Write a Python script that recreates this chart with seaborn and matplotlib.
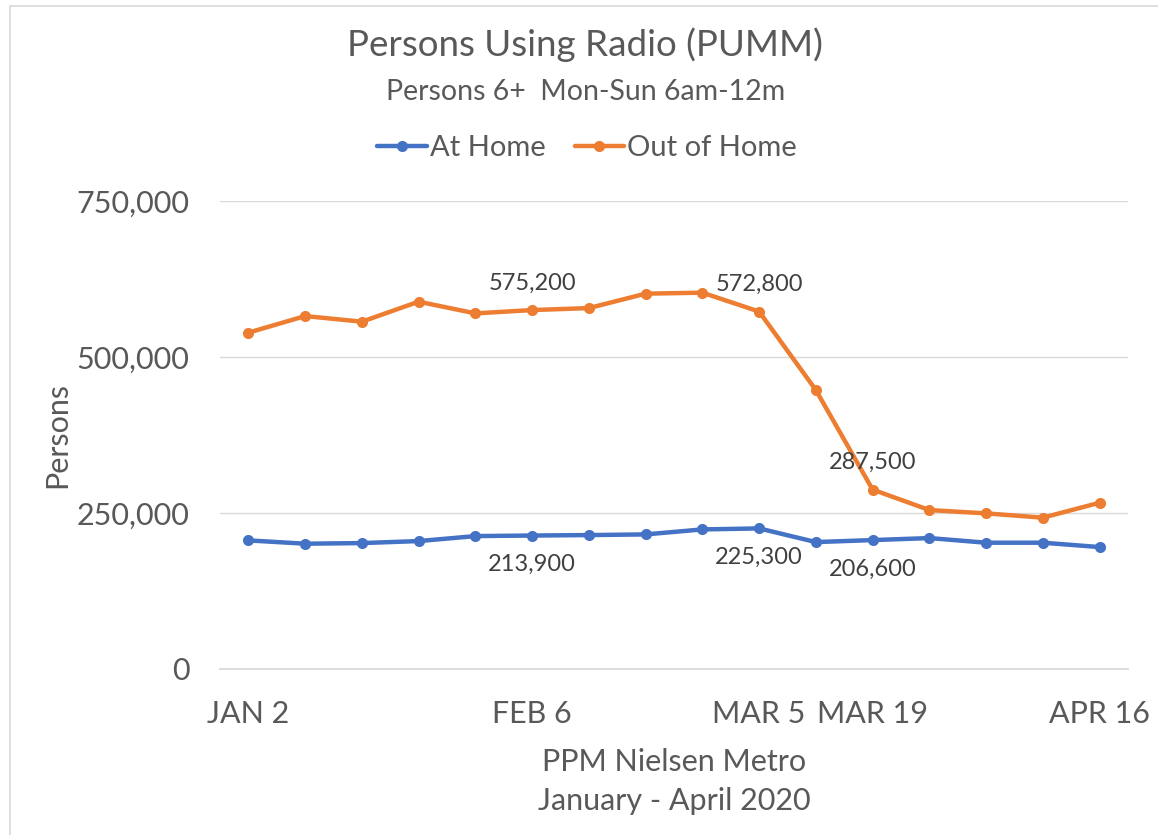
import matplotlib
matplotlib.use("Agg")
import matplotlib.pyplot as plt
from matplotlib.lines import Line2D
import seaborn as sns
import pandas as pd
import numpy as np

weeks = ["JAN 2", "JAN 9", "JAN 16", "JAN 23", "JAN 30", "FEB 6", "FEB 13", "FEB 20",
         "FEB 27", "MAR 5", "MAR 12", "MAR 19", "MAR 26", "APR 2", "APR 9", "APR 16"]
shown_ticks = ["JAN 2", "FEB 6", "MAR 5", "MAR 19", "APR 16"]
at_home = [206100, 200800, 201800, 205000, 213000, 213900, 214600, 215700,
           223700, 225300, 203400, 206600, 209800, 202400, 202400, 195400]
out_of_home = [539000, 565600, 556600, 588700, 569900, 575200, 578400, 601500,
               603100, 572800, 447000, 287500, 254700, 249400, 242500, 266500]
series_names = ["At Home", "Out of Home"]
labels_at = {"At Home": ["FEB 6", "MAR 5", "MAR 19"],
             "Out of Home": ["FEB 6", "MAR 5", "MAR 19"]}

df = pd.DataFrame({
    "idx": list(range(len(weeks))) * 2,
    "week": weeks * 2,
    "value": at_home + out_of_home,
    "series": [series_names[0]] * len(weeks) + [series_names[1]] * len(weeks),
})

sns.set_theme(style="white")
plt.rcParams["font.family"] = ["Lato", "DejaVu Sans"]
text_color = "#595959"
grid_color = "#D9D9D9"
palette = {"At Home": "#4472C4", "Out of Home": "#ED7D31"}

fig = plt.figure(figsize=(11.58, 8.35), dpi=100)
ax = fig.add_axes([220 / 1158, 1 - 669 / 835, (1128 - 220) / 1158, (669 - 201) / 835])

sns.lineplot(data=df, x="idx", y="value", hue="series", palette=palette,
             marker="o", markersize=8, markeredgewidth=0, linewidth=3.2,
             ax=ax, legend=False)

ax.set_xlim(-0.5, len(weeks) - 0.5)
ax.set_ylim(0, 750000)
ax.set_yticks([0, 250000, 500000, 750000])
ax.set_yticklabels([f"{v:,}" for v in [0, 250000, 500000, 750000]])
tick_pos = [weeks.index(w) for w in shown_ticks]
ax.set_xticks(tick_pos)
ax.set_xticklabels(shown_ticks)
ax.tick_params(axis="both", length=0, labelsize=22, colors=text_color)
ax.tick_params(axis="x", pad=22)
ax.tick_params(axis="y", pad=22)
ax.yaxis.grid(True, color=grid_color, linewidth=1)
ax.set_axisbelow(True)
for s in ["top", "right", "left"]:
    ax.spines[s].set_visible(False)
ax.spines["bottom"].set_color(grid_color)

ax.set_xlabel("PPM Nielsen Metro\nJanuary - April 2020", fontsize=22,
              color=text_color, labelpad=15, linespacing=1.45)
ax.set_ylabel("Persons", fontsize=22, color=text_color, labelpad=4)

for name, vals, off in [("At Home", at_home, -21), ("Out of Home", out_of_home, 19.5)]:
    for w in labels_at[name]:
        i = weeks.index(w)
        ax.annotate(f"{vals[i]:,}", (i, vals[i]), xytext=(0, off),
                    textcoords="offset points", ha="center", va="center",
                    fontsize=17, color="#404040")

fig.text(585 / 1158, 1 - 45 / 835, "Persons Using Radio (PUMM)", ha="center",
         va="center", fontsize=26.5, color=text_color)
fig.text(586 / 1158, 1 - 92 / 835, "Persons 6+  Mon-Sun 6am-12m", ha="center",
         va="center", fontsize=20.5, color=text_color)

handles = [Line2D([0], [0], color=palette[n], marker="o", markersize=8,
                  markeredgewidth=0, linewidth=3.2) for n in series_names]
fig.legend(handles, series_names, loc="center", bbox_to_anchor=(587 / 1158, 1 - 148 / 835),
           ncol=2, frameon=False, fontsize=21, labelcolor=text_color,
           handlelength=1.7, handletextpad=0.1, columnspacing=1.0)

fig.add_artist(Line2D([10 / 1158, 10 / 1158], [0, 1 - 6 / 835], color=grid_color, linewidth=1.2))
fig.add_artist(Line2D([10 / 1158, 1], [1 - 6 / 835, 1 - 6 / 835], color=grid_color, linewidth=1.2))

fig.savefig("out.png", dpi=100)
